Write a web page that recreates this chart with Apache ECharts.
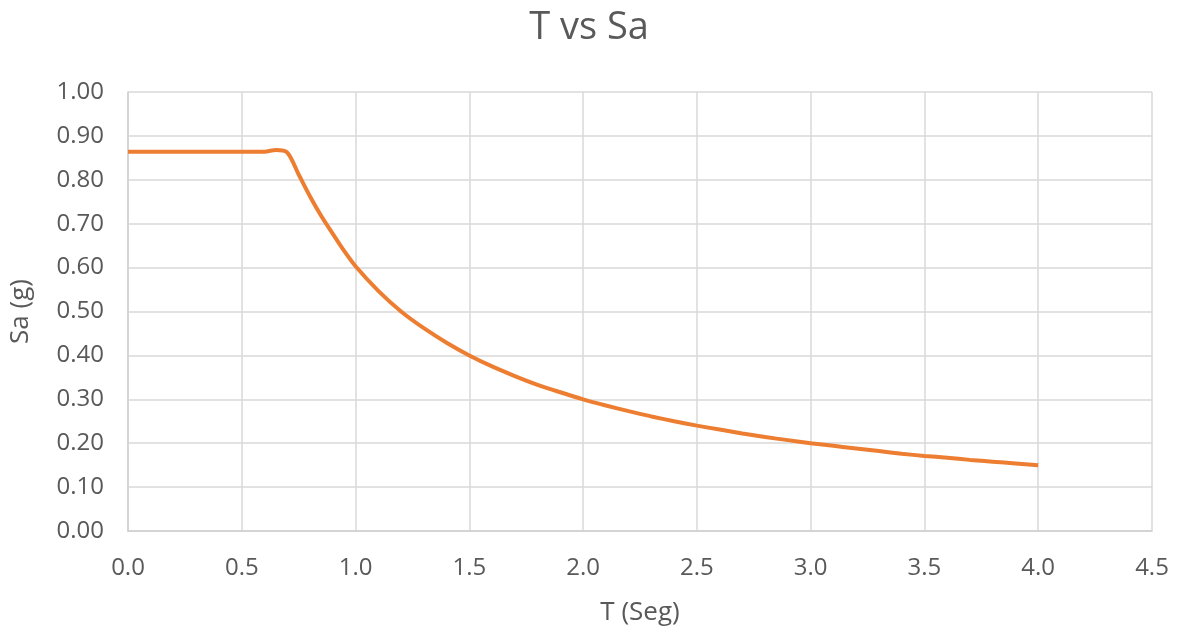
<!DOCTYPE html>
<html><head><meta charset="utf-8">
<script src="https://cdn.jsdelivr.net/npm/echarts@6/dist/echarts.min.js"></script>
<style>html,body{margin:0;padding:0;background:#fff}#c{width:1178px;height:631px}</style>
</head><body><div id="c"></div>
<script>
var periods = [0.0,0.1,0.2,0.3,0.4,0.5,0.55,0.6,0.65,0.7,0.75,0.8,0.85,0.9,0.95,1.0,1.1,1.2,1.3,1.4,1.5,1.6,1.7,1.8,1.9,2.0,2.1,2.2,2.3,2.4,2.5,2.6,2.7,2.8,2.9,3.0,3.1,3.2,3.3,3.4,3.5,3.6,3.7,3.8,3.9,4.0];
var sa = [0.864,0.864,0.864,0.864,0.864,0.864,0.864,0.864,0.868,0.862,0.812,0.762,0.717,0.677,0.638,0.603,0.547,0.500,0.462,0.429,0.400,0.375,0.353,0.333,0.316,0.300,0.286,0.273,0.261,0.250,0.240,0.231,0.222,0.214,0.207,0.200,0.194,0.188,0.182,0.176,0.171,0.167,0.162,0.158,0.154,0.150];
var xTicks = {min:0, max:4.5, interval:0.5};
var yTicks = {min:0, max:1, interval:0.1};
var data = periods.map(function(t,i){return [t, sa[i]];});
var chart = echarts.init(document.getElementById('c'));
var txt = '#595959';
chart.setOption({
  animation:false,
  title:{text:'T vs Sa', left:'center', top:4, textStyle:{fontFamily:'Open Sans', fontSize:38, fontWeight:'normal', color:txt}},
  grid:{left:128, right:26, top:92, bottom:99},
  xAxis:{type:'value', min:xTicks.min, max:xTicks.max, interval:xTicks.interval,
    name:'T (Seg)', nameLocation:'middle', nameGap:69,
    nameTextStyle:{fontFamily:'Open Sans', fontSize:26, color:txt},
    axisLine:{show:true, lineStyle:{color:'#d0d0d0', width:1.5}}, axisTick:{show:false},
    axisLabel:{fontFamily:'Open Sans', fontSize:24, color:txt, margin:25, formatter:function(v){return v.toFixed(1);}},
    splitLine:{show:true, lineStyle:{color:'#d9d9d9', width:1.5}}},
  yAxis:{type:'value', min:yTicks.min, max:yTicks.max, interval:yTicks.interval,
    name:'Sa (g)', nameLocation:'middle', nameGap:94, nameRotate:90,
    nameTextStyle:{fontFamily:'Open Sans', fontSize:26, color:txt},
    axisLine:{show:true, lineStyle:{color:'#d0d0d0', width:1.5}}, axisTick:{show:false},
    axisLabel:{fontFamily:'Open Sans', fontSize:24, color:txt, margin:24, formatter:function(v){return v.toFixed(2);}},
    splitLine:{show:true, lineStyle:{color:'#d9d9d9', width:1.5}}},
  series:[{type:'line', data:data, smooth:0.3, showSymbol:false, symbol:'none',
    lineStyle:{color:'#ED7D31', width:4}}]
});
</script></body></html>
